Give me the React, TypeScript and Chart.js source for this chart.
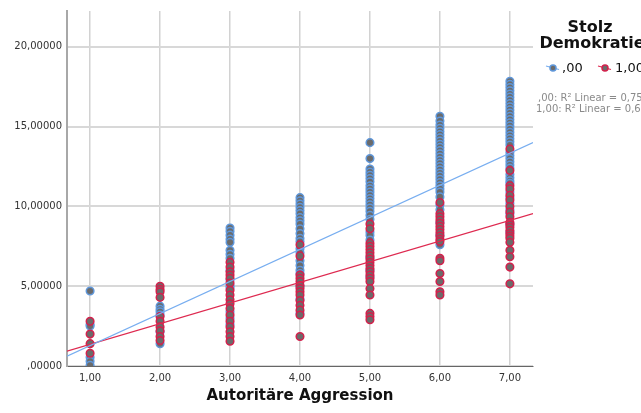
import React, { useEffect, useRef } from "react";
import { Chart, registerables } from "chart.js";

Chart.register(...registerables);

// ---- categories / ticks ----
const xCategories = [1, 2, 3, 4, 5, 6, 7];
const xTickLabels = ["1,00", "2,00", "3,00", "4,00", "5,00", "6,00", "7,00"];
const yTickValues = [0, 5, 10, 15, 20];
const yTickLabels = [",00000", "5,00000", "10,00000", "15,00000", "20,00000"];
const xRange = [0.67, 7.33];
const yRange = [0, 22.25];

// ---- group ",00" (blue outline) ----
const g00x1 = [4.7, 2.6, 2.5, 0.55, 0.3, 0.05];
const g00x2 = [3.75, 3.55, 3.4, 3.2, 2.15, 1.4];
const g00x3 = [8.65, 8.45, 8.2, 7.95, 7.75, 7.25, 7.0, 6.75, 6.0, 5.4, 5.05, 4.9, 3.4, 3.0, 2.6];
const g00x4 = [10.55, 10.35, 10.15, 9.95, 9.75, 9.55, 9.3, 9.1, 8.9, 8.6, 8.3, 8.0, 7.8, 7.35, 7.1, 6.6, 6.3, 6.0, 5.8, 5.0, 4.2, 3.3];
const g00x5 = [14.0, 13.0, 12.35, 12.15, 11.95, 11.75, 11.55, 11.3, 11.1, 10.9, 10.7, 10.5, 10.3, 10.1, 9.9, 9.7, 9.45, 9.2, 8.4, 8.2, 7.9, 6.8, 6.0, 5.6];
const g00x6 = [15.65, 15.35, 15.1, 14.9, 14.7, 14.5, 14.3, 14.1, 13.9, 13.7, 13.5, 13.3, 13.1, 12.9, 12.7, 12.5, 12.3, 12.1, 11.9, 11.7, 11.5, 11.3, 11.1, 10.9, 10.6, 10.1, 9.8, 9.0, 8.2, 7.6];
const g00x7 = [17.85, 17.65, 17.45, 17.25, 17.05, 16.85, 16.65, 16.45, 16.25, 16.05, 15.85, 15.65, 15.45, 15.25, 15.05, 14.85, 14.65, 14.45, 14.25, 14.05, 13.85, 13.4, 13.2, 13.0, 12.8, 12.6, 12.4, 12.0, 11.8, 11.6, 11.45, 10.9, 10.55, 10.2, 9.8, 9.55, 8.9, 8.4];

// ---- group "1,00" (red outline) ----
const g10x1 = [2.8, 2.0, 1.4, 0.8];
const g10x2 = [5.0, 4.8, 4.65, 4.3, 3.1, 2.8, 2.45, 2.2, 1.85, 1.6];
const g10x3 = [6.5, 6.2, 5.9, 5.7, 5.5, 5.2, 4.75, 4.45, 4.15, 3.9, 3.6, 3.2, 2.8, 2.45, 2.15, 1.85, 1.55];
const g10x4 = [7.6, 6.9, 5.7, 5.5, 5.3, 5.05, 4.85, 4.65, 4.45, 4.1, 3.8, 3.5, 3.2, 1.85];
const g10x5 = [8.9, 8.6, 7.7, 7.5, 7.3, 7.1, 6.9, 6.7, 6.5, 6.3, 6.1, 5.9, 5.7, 5.5, 5.3, 4.85, 4.45, 3.3, 3.1, 2.9];
const g10x6 = [10.25, 9.55, 9.35, 9.15, 8.95, 8.75, 8.55, 8.35, 8.15, 7.95, 7.8, 6.75, 6.6, 5.8, 5.3, 4.65, 4.45];
const g10x7 = [13.6, 12.25, 11.3, 11.1, 10.7, 10.4, 10.0, 9.65, 9.35, 9.0, 8.85, 8.7, 8.5, 8.3, 8.15, 8.0, 7.75, 7.25, 6.85, 6.2, 5.15];

// ---- linear fits ----
const groupNames = [",00", "1,00"];
const fitSlope = [2.01, 1.294];
const fitIntercept = [-0.73, 0.07];
const r2Labels = [",00: R² Linear = 0,759", "1,00: R² Linear = 0,605"];

const legendTitle = ["Stolz", "Demokratie"];
const xTitle = "Autoritäre Aggression";

const BLUE = "#5f97da";
const RED = "#d3214c";
const FILL = "#6b6b6b";
const BLUE_LINE = "#78aef0";
const RED_LINE = "#de2a50";

const toPoints = (cols: number[][]) =>
  cols.flatMap((vals, i) => vals.map((v) => ({ x: xCategories[i], y: v })));

const fitPoints = (g: number) =>
  xRange.map((x) => ({ x, y: fitIntercept[g] + fitSlope[g] * x }));

const overlayPlugin = {
  id: "overlay",
  afterDraw(chart: any) {
    const ctx = chart.ctx as CanvasRenderingContext2D;
    const area = chart.chartArea;
    ctx.save();
    // x axis title
    ctx.fillStyle = "#111";
    ctx.font = "bold 15px 'DejaVu Sans'";
    ctx.textAlign = "center";
    ctx.textBaseline = "alphabetic";
    ctx.fillText(xTitle, (area.left + area.right) / 2, 400);

    // legend title
    ctx.font = "bold 16px 'DejaVu Sans'";
    ctx.fillText(legendTitle[0], 590, 32);
    ctx.fillText(legendTitle[1], 592, 48);

    // legend items
    const items = [
      { x: 553, color: BLUE, line: BLUE_LINE, tx: 562 },
      { x: 605, color: RED, line: RED_LINE, tx: 615 },
    ];
    const ly = 68;
    items.forEach((it, i) => {
      ctx.strokeStyle = it.line;
      ctx.lineWidth = 1.2;
      ctx.beginPath();
      ctx.moveTo(it.x - 7, ly - 2);
      ctx.lineTo(it.x + 6, ly + 1.5);
      ctx.stroke();
      ctx.beginPath();
      ctx.arc(it.x, ly, 3, 0, Math.PI * 2);
      ctx.fillStyle = FILL;
      ctx.fill();
      ctx.strokeStyle = it.color;
      ctx.lineWidth = 1.5;
      ctx.stroke();
      ctx.fillStyle = "#111";
      ctx.font = "13px 'DejaVu Sans'";
      ctx.textAlign = "left";
      ctx.textBaseline = "middle";
      ctx.fillText(groupNames[i], it.tx, ly + 1);
    });

    // R² texts
    ctx.fillStyle = "#8a8a8a";
    ctx.font = "10px 'DejaVu Sans'";
    ctx.textAlign = "left";
    ctx.textBaseline = "alphabetic";
    ctx.fillText(r2Labels[0], 538, 101);
    ctx.fillText(r2Labels[1], 536, 112);
    ctx.restore();
  },
};

export default function App() {
  const ref = useRef<HTMLCanvasElement | null>(null);

  useEffect(() => {
    if (!ref.current) return;
    const chart = new Chart(ref.current, {
      type: "scatter",
      data: {
        datasets: [
          {
            label: "fit00",
            type: "line",
            data: fitPoints(0),
            borderColor: BLUE_LINE,
            borderWidth: 1.2,
            pointRadius: 0,
            fill: false,
            order: 0,
          } as any,
          {
            label: "fit10",
            type: "line",
            data: fitPoints(1),
            borderColor: RED_LINE,
            borderWidth: 1.2,
            pointRadius: 0,
            fill: false,
            order: 0,
          } as any,
          {
            label: groupNames[1],
            data: toPoints([g10x1, g10x2, g10x3, g10x4, g10x5, g10x6, g10x7]),
            backgroundColor: FILL,
            borderColor: RED,
            borderWidth: 1.5,
            pointRadius: 3.8,
            order: 1,
          },
          {
            label: groupNames[0],
            data: toPoints([g00x1, g00x2, g00x3, g00x4, g00x5, g00x6, g00x7]),
            backgroundColor: FILL,
            borderColor: BLUE,
            borderWidth: 1.5,
            pointRadius: 3.8,
            order: 2,
          },
        ],
      },
      options: {
        responsive: false,
        animation: false,
        devicePixelRatio: 1,
        layout: { padding: { top: 10, right: 108, left: 0, bottom: 0 } },
        plugins: {
          legend: { display: false },
          tooltip: { enabled: false },
          title: { display: false },
        },
        scales: {
          x: {
            type: "linear",
            min: xRange[0],
            max: xRange[1],
            afterBuildTicks: (scale: any) => {
              scale.ticks = xCategories.map((v) => ({ value: v }));
            },
            afterFit: (scale: any) => {
              scale.height = 47;
            },
            ticks: {
              autoSkip: false,
              maxRotation: 0,
              padding: 6,
              color: "#333",
              font: { family: "'DejaVu Sans'", size: 10 },
              callback: (v: any) => xTickLabels[xCategories.indexOf(Number(v))] ?? "",
            },
            grid: { color: "#d2d2d2", lineWidth: 1.5, drawTicks: false },
            border: { color: "#666", width: 1 },
          },
          y: {
            type: "linear",
            min: yRange[0],
            max: yRange[1],
            afterBuildTicks: (scale: any) => {
              scale.ticks = yTickValues.map((v) => ({ value: v }));
            },
            afterFit: (scale: any) => {
              scale.width = 67;
            },
            ticks: {
              autoSkip: false,
              padding: 5,
              color: "#333",
              font: { family: "'DejaVu Sans'", size: 10 },
              callback: (v: any) => yTickLabels[yTickValues.indexOf(Number(v))] ?? "",
            },
            grid: { color: "#d8d8d8", lineWidth: 2, drawTicks: false },
            border: { color: "#a8a8a8", width: 2 },
          },
        },
      },
      plugins: [overlayPlugin],
    });
    return () => chart.destroy();
  }, []);

  return (
    <div style={{ position: "fixed", left: 0, top: 0, width: 641, height: 413, background: "#fff" }}>
      <canvas ref={ref} width={641} height={413} style={{ display: "block" }} />
    </div>
  );
}
